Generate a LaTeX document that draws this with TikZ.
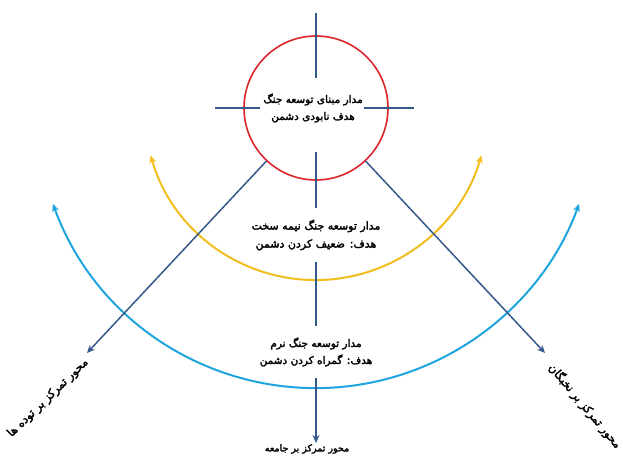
\documentclass[tikz,border=0pt]{standalone}
\usepackage{fontspec}
\usetikzlibrary{arrows.meta}
\TeXXeTstate=1
\newfontfamily\arabicfont[Script=Arabic, FakeBold=2.5]{DejaVu Sans}
\newcommand{\ar}[1]{{\arabicfont\beginR #1\endR}}
\definecolor{axisblue}{HTML}{35598A}
\definecolor{ringred}{HTML}{E0242B}
\definecolor{arcyellow}{HTML}{F2BD1F}
\definecolor{arcblue}{HTML}{1FA5DE}
\tikzset{
  axisline/.style={draw=axisblue, line width=1.5pt},
  axisarrow/.style={axisline, -{Stealth[length=8pt,width=7pt]}},
  orbit/.style={line width=2pt, {Stealth[length=8pt,width=7pt]}-{Stealth[length=8pt,width=7pt]}},
  lbl/.style={font=\fontsize{10.5}{17}\selectfont, align=center, inner sep=0pt},
  sidelbl/.style={font=\fontsize{11.5}{13}\selectfont, inner sep=1pt}
}
\begin{document}
\begin{tikzpicture}[x=1pt,y=1pt]
\useasboundingbox (0,0) rectangle (623,464);
% centre and ring
\coordinate (C) at (316,356);
\node[circle, draw=ringred, line width=1.6pt, minimum size=144pt, inner sep=0pt] (ring) at (C) {};
% crosshair ends
\coordinate (ot) at (316,451);
\coordinate (ct) at (316,386);
\coordinate (ol) at (215,356);
\coordinate (cl) at (260,356);
\coordinate (or) at (414,356);
\coordinate (cr) at (364,356);
\coordinate (cb) at (316,312);
% diagonal ends
\coordinate (lt) at (87,111);
\coordinate (rt) at (545,111);
% arcs
\draw[orbit, arcyellow] ([shift={(-164:172)}]C) arc[start angle=-164, end angle=-16, radius=172];
\draw[orbit, arcblue] ([shift={(-160:280)}]C) arc[start angle=-160, end angle=-20, radius=280];
% text nodes
\node[lbl] (ctext) at (313,356) {\ar{مدار مبنای توسعه جنگ}\\\ar{هدف نابودی دشمن}};
\node[lbl, font=\fontsize{11}{18}\selectfont, minimum height=54pt] (t2) at (316,229) {\ar{مدار توسعه جنگ نیمه سخت}\\\ar{هدف: ضعیف کردن دشمن}};
\node[lbl, minimum height=51pt] (t3) at (316,112) {\ar{مدار توسعه جنگ نرم}\\\ar{هدف: گمراه کردن دشمن}};
\node[sidelbl, font=\fontsize{9.5}{11}\selectfont, anchor=north] (bot) at (307,21) {\ar{محور تمرکز بر جامعه}};
\node[sidelbl, rotate=44] (left) at (48,66) {\ar{محور تمرکز بر توده ها}};
\node[sidelbl, rotate=-50] (right) at (585,58) {\ar{محور تمرکز بر نخبگان}};
% crosshair
\draw[axisline] (ot) -- (ct);
\draw[axisline] (ol) -- (cl);
\draw[axisline] (cr) -- (or);
% vertical axis
\draw[axisline] (cb) -- (t2.north);
\draw[axisline] (t2.south) -- (t3.north);
\draw[axisarrow] (t3.south) -- (bot.north -| C);
% diagonals
\draw[axisarrow] (ring) -- (lt);
\draw[axisarrow] (ring) -- (rt);
\end{tikzpicture}
\end{document}
